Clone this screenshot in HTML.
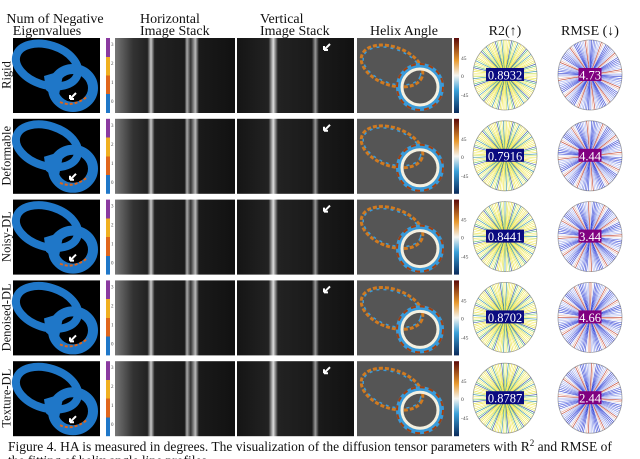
<!DOCTYPE html>
<html><head><meta charset="utf-8"><style>
body{margin:0;background:#fff;width:640px;height:459px;overflow:hidden}
svg{display:block}
text{font-family:"Liberation Serif",serif}
</style></head><body>
<svg id="fig" width="640" height="459" viewBox="0 0 640 459" xmlns="http://www.w3.org/2000/svg">
<defs>
<linearGradient id="eigcb" x1="0" y1="1" x2="0" y2="0">
<stop offset="0" stop-color="#1f77c8"/><stop offset="0.25" stop-color="#1f77c8"/>
<stop offset="0.25" stop-color="#e0661c"/><stop offset="0.5" stop-color="#e0661c"/>
<stop offset="0.5" stop-color="#f0b020"/><stop offset="0.75" stop-color="#f0b020"/>
<stop offset="0.75" stop-color="#8a3aa0"/><stop offset="1" stop-color="#8a3aa0"/>
</linearGradient>
<linearGradient id="hacb" x1="0" y1="1" x2="0" y2="0">
<stop offset="0" stop-color="#0a2a5a"/><stop offset="0.3" stop-color="#3aa0d8"/>
<stop offset="0.5" stop-color="#f4f4f0"/><stop offset="0.7" stop-color="#e89a30"/>
<stop offset="1" stop-color="#5a0a0a"/>
</linearGradient>
<linearGradient id="hgrad" x1="0" y1="0" x2="1" y2="0">
<stop offset="0" stop-color="#777"/><stop offset="0.15" stop-color="#333"/>
<stop offset="0.27" stop-color="#222"/><stop offset="0.3" stop-color="#ccc"/><stop offset="0.33" stop-color="#222"/>
<stop offset="0.58" stop-color="#1a1a1a"/><stop offset="0.6" stop-color="#aaa"/><stop offset="0.63" stop-color="#333"/>
<stop offset="0.67" stop-color="#bbb"/><stop offset="0.7" stop-color="#1a1a1a"/><stop offset="1" stop-color="#111"/>
</linearGradient>
<linearGradient id="vgrad" x1="0" y1="0" x2="1" y2="0">
<stop offset="0" stop-color="#151515"/><stop offset="0.27" stop-color="#222"/>
<stop offset="0.31" stop-color="#ddd"/><stop offset="0.35" stop-color="#222"/>
<stop offset="0.64" stop-color="#1a1a1a"/><stop offset="0.67" stop-color="#999"/><stop offset="0.7" stop-color="#1a1a1a"/>
<stop offset="1" stop-color="#111"/>
</linearGradient>
</defs>
<g font-size="14" fill="#111">
<text x="55" y="23" text-anchor="middle"><tspan x="55">Num of Negative</tspan><tspan x="47" dy="12">Eigenvalues</tspan></text>
<text x="140" y="23"><tspan x="140">Horizontal</tspan><tspan x="140" dy="12">Image Stack</tspan></text>
<text x="260" y="23"><tspan x="260">Vertical</tspan><tspan x="260" dy="12">Image Stack</tspan></text>
<text x="404" y="35" text-anchor="middle">Helix Angle</text>
<text x="505" y="35" text-anchor="middle">R2(↑)</text>
<text x="590" y="35" text-anchor="middle">RMSE (↓)</text>
<text x="8" y="451" font-size="13.5">Figure 4. HA is measured in degrees. The visualization of the diffusion tensor parameters with R<tspan font-size="9" dy="-5">2</tspan><tspan dy="5"> and RMSE of</tspan></text>
<text x="8" y="465" font-size="13.5">the fitting of helix angle line profiles.</text>
</g>
<g id="rows"></g>
</svg>
<script>
const rowLabels = ["Rigid","Deformable","Noisy-DL","Denoised-DL","Texture-DL"];
const r2Values = [0.8932,0.7916,0.8441,0.8702,0.8787];
const rmseValues = [4.73,4.44,3.44,4.66,2.44];
const NS="http://www.w3.org/2000/svg";
const rows=document.getElementById('rows');
function mk(tag,attrs,parent){const e=document.createElementNS(NS,tag);for(const k in attrs)e.setAttribute(k,attrs[k]);parent.appendChild(e);return e;}
const r2Cols=["#f0e442","#e0e040","#f4f070","#c8e050","#f0e442","#60c070","#3090a0","#f8f080","#3050a0","#e8e860"];
const rmseCols=["#3848d8","#6878e4","#a8b4f2","#d0d8f6","#4050e0","#b0b8f0","#e8a898","#3040d0","#8090e8","#c04030"];
for(let i=0;i<rowLabels.length;i++){
  const y0=38+i*80.8;
  const g=mk('g',{},rows);
  
  
  const em=mk('g',{},g);
  
  
  mk('rect',{x:13,y:y0,width:87,height:75,fill:'#000'},em);
  mk('ellipse',{cx:47,cy:y0+27,rx:32,ry:20,fill:'none',stroke:'#1f77c8','stroke-width':8,transform:`rotate(18 47 ${y0+27})`},em);
  mk('ellipse',{cx:73,cy:y0+50,rx:20,ry:19,fill:'none',stroke:'#1f77c8','stroke-width':10},em);
  mk('path',{d:`M44 ${y0+38} L64 ${y0+32} L58 ${y0+62} L46 ${y0+52}Z`,fill:'#1f77c8'},em);
  mk('path',{d:`M60 ${y0+64} Q73 ${y0+70} 88 ${y0+58}`,fill:'none',stroke:'#e0661c','stroke-width':2,'stroke-dasharray':'3 2'},em);
  mk('path',{d:`M70 ${y0+61} l6 -6 M70 ${y0+61} l0 -4 M70 ${y0+61} l4 0`,stroke:'#fff','stroke-width':2},em);
  const lab=mk('text',{x:0,y:0,'font-size':12.5,transform:`translate(10.5,${y0+37}) rotate(-90)`,'text-anchor':'middle',fill:'#111'},g);
  lab.textContent=rowLabels[i];
  
  
  const cb=mk('rect',{x:106,y:y0,width:4,height:75,fill:'url(#eigcb)'},g);
  
  
  ['0','1','2','3'].forEach((t,k)=>{const tt=mk('text',{x:111,y:y0+65-k*19,'font-size':5,fill:'#444'},g);tt.textContent=t;});
  const hs=mk('rect',{x:115,y:y0,width:120,height:75,fill:'url(#hgrad)'},g);
  
  
  const vs=mk('rect',{x:237,y:y0,width:117,height:75,fill:'url(#vgrad)'},g);
  
  
  mk('path',{d:`M324 ${y0+12} l6 -6 M324 ${y0+12} l0 -4 M324 ${y0+12} l4 0`,stroke:'#fff','stroke-width':2},g);
  const hm=mk('g',{},g);
  
  
  mk('rect',{x:357,y:y0,width:95,height:75,fill:'#555'},hm);
  mk('ellipse',{cx:392,cy:y0+28,rx:32,ry:19,fill:'none',stroke:'#d07a20','stroke-width':3,'stroke-dasharray':'4 2',transform:`rotate(20 392 ${y0+28})`},hm);
  mk('ellipse',{cx:392,cy:y0+28,rx:30,ry:17,fill:'none',stroke:'#3a9ad8','stroke-width':1.5,'stroke-dasharray':'3 4',transform:`rotate(20 392 ${y0+28})`},hm);
  mk('ellipse',{cx:420,cy:y0+49,rx:21,ry:21,fill:'none',stroke:'#3a9ad8','stroke-width':6},hm);
  mk('ellipse',{cx:420,cy:y0+49,rx:18,ry:18,fill:'none',stroke:'#f4f0e0','stroke-width':3},hm);
  mk('ellipse',{cx:420,cy:y0+49,rx:23,ry:23,fill:'none',stroke:'#a04010','stroke-width':2,'stroke-dasharray':'5 4'},hm);
  const hc=mk('rect',{x:454,y:y0,width:5,height:75,fill:'url(#hacb)'},g);
  
  
  [['45',22],['0',40],['-45',59]].forEach(a=>{const tt=mk('text',{x:461,y:y0+a[1],'font-size':5.5,fill:'#444'},g);tt.textContent=a[0];});
  [[505,r2Cols,r2Values[i].toFixed(4),'#0a0a80','r2'],[590,rmseCols,rmseValues[i].toFixed(2),'#800080','rmse']].forEach(p=>{
    const cx=p[0],cy=y0+37,R=32;
    const pg=mk('g',{},g);
    
    
    mk('ellipse',{cx,cy,rx:R,ry:R+3,fill:'#fff',stroke:'#999','stroke-width':0.8},pg);
    for(let k=0;k<60;k++){const a=k*Math.PI/60;const c=p[1][(k*7+i*3)%p[1].length];
      mk('line',{x1:cx+R*Math.cos(a),y1:cy+(R+3)*Math.sin(a),x2:cx-R*Math.cos(a),y2:cy-(R+3)*Math.sin(a),stroke:c,'stroke-width':0.6},pg);}
    const w=p[4]==='r2'?38:23;
    const bx=mk('rect',{x:cx-w/2,y:cy-7,width:w,height:13,fill:p[3]},pg);
    
    
    const vt=mk('text',{x:cx,y:cy+4.5,'text-anchor':'middle','font-size':12.5,fill:'#fff'},pg);
    vt.textContent=p[2];
    
    
  });
}
</script>
</body></html>
